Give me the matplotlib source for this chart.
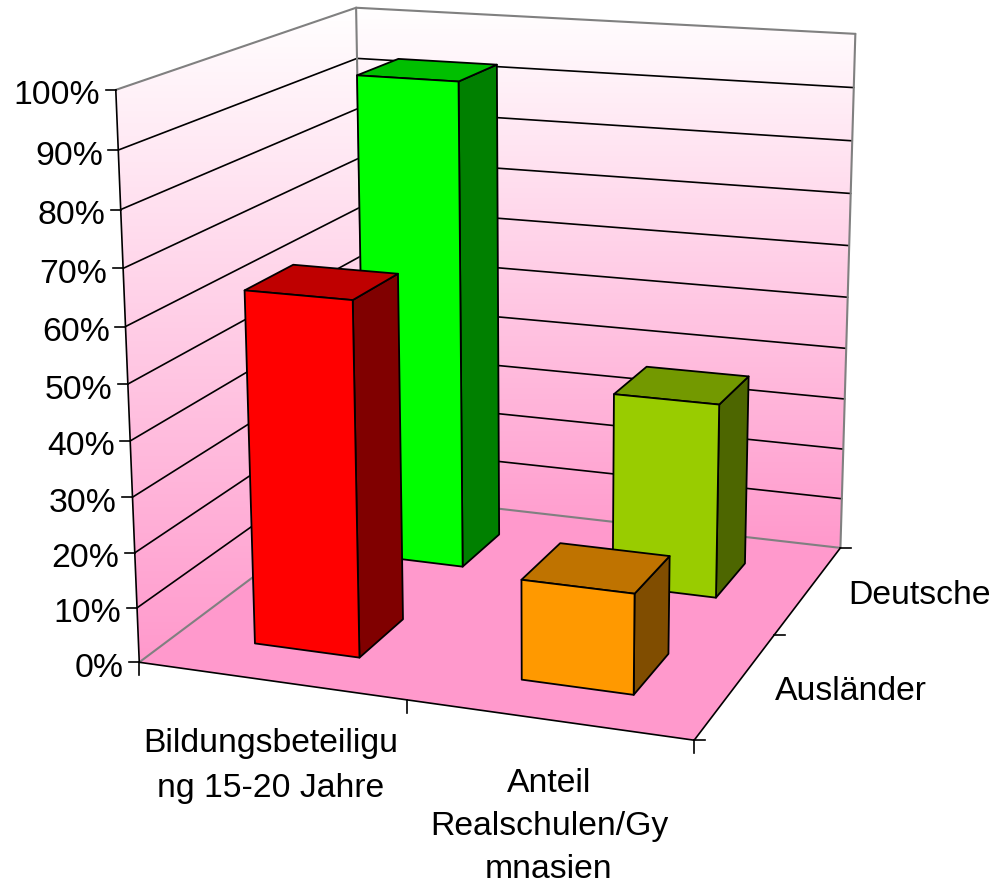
import numpy as np
import matplotlib
matplotlib.use('Agg')
import matplotlib.pyplot as plt
from matplotlib.colors import LinearSegmentedColormap
from matplotlib.patches import Polygon

plt.rcParams['font.family'] = ['Liberation Sans', 'DejaVu Sans']

# Chart data (percent)
categories = ['Bildungsbeteiligu\nng 15-20 Jahre', 'Anteil\nRealschulen/Gy\nmnasien']
series = ['Ausländer', 'Deutsche']
auslaender = [64, 18]
deutsche = [93, 37]
y_ticks = [0, 10, 20, 30, 40, 50, 60, 70, 80, 90, 100]

front_colors = [['#FF0000', '#FF9900'], ['#00FF00', '#99CC00']]
top_colors = [['#BF0000', '#BF7300'], ['#00BF00', '#739900']]
side_colors = [['#800000', '#804D00'], ['#008000', '#4D6600']]

# Frame corners on the picture, used to fit the 3D camera of the chart
world = np.array([[0, 0, 0], [0, 0, 100], [0, 2, 0], [0, 2, 100],
                  [2, 2, 0], [2, 2, 100], [2, 0, 0]], dtype=float)
pixels = np.array([[138.3, 661.7], [116.7, 90], [366, 494], [355, 7.5],
                   [840, 547.3], [855.7, 34], [694.3, 740.7]])

rows = []
rhs = []
for (X, Y, Z), (u, v) in zip(world, pixels):
    rows.append([X, Y, Z, 1, 0, 0, 0, 0, -u * X, -u * Y, -u * Z])
    rows.append([0, 0, 0, 0, X, Y, Z, 1, -v * X, -v * Y, -v * Z])
    rhs += [u, v]
sol = np.linalg.lstsq(np.array(rows), np.array(rhs), rcond=None)[0]
P = np.append(sol, 1).reshape(3, 4)


def project(x, y, z):
    p = P @ np.array([x, y, z, 1.0])
    return p[0] / p[2], p[1] / p[2]


def face(points, **kw):
    ax.add_patch(Polygon([project(*pt) for pt in points], closed=True, **kw))


def line3d(a, b, color='black', lw=1.2):
    pa, pb = project(*a), project(*b)
    ax.plot([pa[0], pb[0]], [pa[1], pb[1]], color=color, lw=lw, solid_capstyle='round')


fig = plt.figure(figsize=(9.96, 8.84), dpi=100)
ax = fig.add_axes([0, 0, 1, 1])
ax.set_xlim(0, 996)
ax.set_ylim(884, 0)
ax.axis('off')

# Walls, each with its own white to pink gradient over its height
cmap = LinearSegmentedColormap.from_list('wall', ['#FFFFFF', '#FF99CC'])
grad = np.linspace(0, 1, 256).reshape(-1, 1)
for wall in ([(0, 0, 0), (0, 0, 100), (0, 2, 100), (0, 2, 0)],
             [(0, 2, 0), (0, 2, 100), (2, 2, 100), (2, 2, 0)]):
    corners = [project(*pt) for pt in wall]
    poly = Polygon(corners, closed=True, transform=ax.transData, fc='none', ec='none')
    ax.add_patch(poly)
    top = min(p[1] for p in corners)
    bottom = max(p[1] for p in corners)
    im = ax.imshow(grad, cmap=cmap, extent=[0, 996, bottom, top], aspect='auto', zorder=1)
    im.set_clip_path(poly)
ax.set_xlim(0, 996)
ax.set_ylim(884, 0)

# Floor
face([(0, 0, 0), (2, 0, 0), (2, 2, 0), (0, 2, 0)], fc='#FF99CC', ec='none', zorder=2)

# Grid lines
for t in y_ticks[1:-1]:
    line3d((0, 0, t), (0, 2, t))
    line3d((0, 2, t), (2, 2, t))
for a, b in [((0, 0, 100), (0, 2, 100)), ((0, 2, 100), (2, 2, 100)),
             ((0, 2, 0), (0, 2, 100)), ((2, 2, 0), (2, 2, 100)),
             ((0, 0, 0), (0, 2, 0)), ((0, 2, 0), (2, 2, 0))]:
    line3d(a, b, color='#808080', lw=1.5)

# Axis lines and ticks
line3d((0, 0, 0), (0, 0, 100))
line3d((0, 0, 0), (2, 0, 0))
line3d((2, 0, 0), (2, 2, 0))
for t in y_ticks:
    x0, y0 = project(0, 0, t)
    ax.plot([x0 - 10, x0], [y0, y0], color='black', lw=1.2)
    ax.text(x0 - 15.5, y0 + 6, f'{t}%', fontsize=24.3, ha='right', va='center')
for c in range(3):
    x0, y0 = project(c, 0, 0)
    ax.plot([x0, x0], [y0, y0 + 13], color='black', lw=1.2)
for s in range(3):
    x0, y0 = project(2, s, 0)
    ax.plot([x0, x0 + 11], [y0, y0], color='black', lw=1.2)

# Category and series labels
ax.text(271, 766, categories[0], fontsize=24.3, ha='center', va='center', linespacing=1.56)
ax.text(549, 826, categories[1], fontsize=24.3, ha='center', va='center', linespacing=1.5)
ax.text(775, 691, series[0], fontsize=24.3, ha='left', va='center')
ax.text(848, 595, series[1], fontsize=24.3, ha='left', va='center')

# Bars, back row first
bar_w = 0.4
bar_d = 0.4
z = 10
for s, values in reversed(list(enumerate([auslaender, deutsche]))):
    for c, v in enumerate(values):
        x0, x1 = c + 0.5 - bar_w / 2, c + 0.5 + bar_w / 2
        y0, y1 = s + 0.5 - bar_d / 2, s + 0.5 + bar_d / 2
        style = dict(ec='black', lw=1.3, joinstyle='round', zorder=z)
        face([(x1, y0, 0), (x1, y1, 0), (x1, y1, v), (x1, y0, v)], fc=side_colors[s][c], **style)
        face([(x0, y0, v), (x1, y0, v), (x1, y1, v), (x0, y1, v)], fc=top_colors[s][c], **style)
        face([(x0, y0, 0), (x1, y0, 0), (x1, y0, v), (x0, y0, v)], fc=front_colors[s][c], **style)
    z += 1

fig.savefig('out.png', dpi=100)
